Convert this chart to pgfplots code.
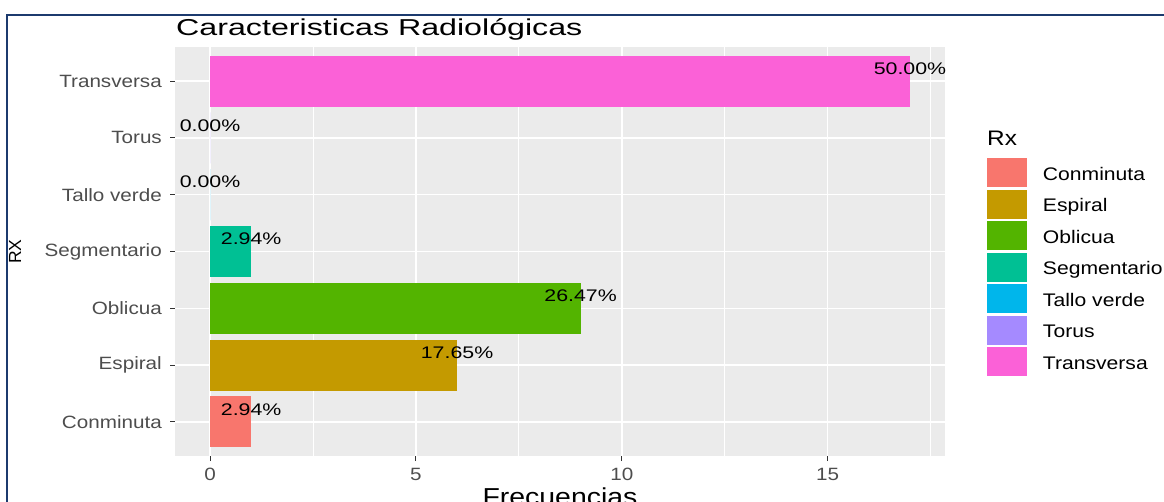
\documentclass[border=0pt]{standalone}
\usepackage{fontspec}
\setmainfont{Liberation Sans}[FakeStretch=1.16]
\newfontfamily\titlefont{Liberation Sans}[FakeStretch=1.40]
\newfontfamily\barfont{Liberation Sans}[FakeStretch=1.27]
\newfontfamily\rxfont{Liberation Sans}
\usepackage{pgfplots}
\pgfplotsset{compat=1.18}
\definecolor{panelgrey}{HTML}{EBEBEB}
\definecolor{grey20}{HTML}{333333}
\definecolor{grey30}{HTML}{4D4D4D}
\definecolor{framenavy}{HTML}{1C3A6E}
\definecolor{cA}{HTML}{F8766D}
\definecolor{cB}{HTML}{C49A00}
\definecolor{cC}{HTML}{53B400}
\definecolor{cD}{HTML}{00C094}
\definecolor{cE}{HTML}{00B6EB}
\definecolor{cF}{HTML}{A58AFF}
\definecolor{cG}{HTML}{FB61D7}
\begin{document}
\begin{tikzpicture}[x=1pt,y=1pt]
\useasboundingbox (0,0) rectangle (1164,501);
\draw[framenavy, line width=2pt] (7,-2) -- (7,486) -- (1170,486);
\begin{axis}[
  at={(175pt,45pt)}, anchor=south west,
  scale only axis, width=770pt, height=409pt,
  xbar,
  xmin=-0.85, xmax=17.85, ymin=0.4, ymax=7.6,
  clip=false,
  axis background/.style={fill=panelgrey},
  axis line style={draw=none},
  ytick={1,2,3,4,5,6,7},
  yticklabels={Conminuta,Espiral,Oblicua,Segmentario,Tallo verde,Torus,Transversa},
  xtick={0,5,10,15},
  minor xtick={2.5,7.5,12.5,17.5},
  xmajorgrids, xminorgrids, ymajorgrids,
  major grid style={white, line width=1.6pt},
  minor grid style={white, line width=0.8pt},
  tick align=outside,
  xtick pos=left, ytick pos=left,
  major tick length=5pt, minor tick length=0pt,
  tick style={grey20, line width=1pt},
  /pgf/number format/assume math mode=true,
  yticklabel style={font=\fontsize{17.8}{20}\selectfont, text=grey30, inner sep=0pt, anchor=east, xshift=-8pt},
  xticklabel style={font=\fontsize{17.8}{20}\selectfont, text=grey30, inner sep=0pt, anchor=north, yshift=-7pt},
  title={\titlefont Caracteristicas Radiológicas},
  title style={at={(axis description cs:0.0013,1.0137)}, anchor=base west, inner sep=0pt, font=\fontsize{23}{26}\selectfont, text=black},
  xlabel={Frecuencias},
  xlabel style={at={(axis description cs:0.5,-0.121)}, anchor=base, inner sep=0pt, font=\fontsize{24.5}{28}\selectfont, text=black},
  ylabel={\rxfont\fontsize{17.5}{20}\selectfont RX},
  ylabel style={at={(axis description cs:-0.2,0.5)}, anchor=base, inner sep=0pt, text=black},
  every axis plot/.append style={bar shift=0pt, bar width=0.9, draw=none,
     legend image code/.code={\fill[##1] (0pt,-12.5pt) rectangle (40pt,16.5pt);}},
  nodes near coords style={anchor=center, yshift=12.5pt, xshift=0pt, inner sep=0pt, text=black, font=\barfont\fontsize{16.8}{18}\selectfont},
  legend style={at={(axis description cs:1.0545,0.7286)}, anchor=north west, draw=none, fill=none,
     inner sep=0pt, outer sep=0pt, row sep=2.5pt, column sep=16pt,
     font=\fontsize{18.2}{20}\selectfont, nodes={inner sep=0pt}},
  legend cell align=left,
]
\addplot[fill=cA, nodes near coords={2.94\%}] coordinates {(1,1)};
\addlegendentry{Conminuta}
\addplot[fill=cB, nodes near coords={17.65\%}] coordinates {(6,2)};
\addlegendentry{Espiral}
\addplot[fill=cC, nodes near coords={26.47\%}] coordinates {(9,3)};
\addlegendentry{Oblicua}
\addplot[fill=cD, nodes near coords={2.94\%}] coordinates {(1,4)};
\addlegendentry{Segmentario}
\addplot[fill=cE, nodes near coords={0.00\%}] coordinates {(0,5)};
\addlegendentry{Tallo verde}
\addplot[fill=cF, nodes near coords={0.00\%}] coordinates {(0,6)};
\addlegendentry{Torus}
\addplot[fill=cG, nodes near coords={50.00\%}] coordinates {(17,7)};
\addlegendentry{Transversa}
\node[anchor=base west, inner sep=0pt, font=\fontsize{21}{24}\selectfont] at (axis description cs:1.0545,0.758) {Rx};
\end{axis}
\end{tikzpicture}
\end{document}
